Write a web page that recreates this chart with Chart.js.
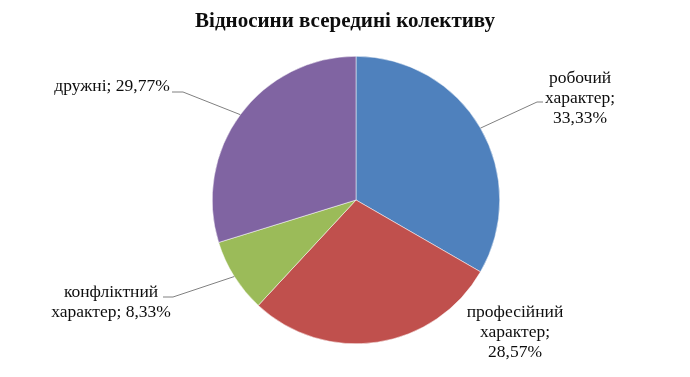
<!DOCTYPE html>
<html lang="uk">
<head>
  <meta charset="UTF-8">
  <title>Відносини всередині колективу</title>
  <script src="https://cdn.jsdelivr.net/npm/chart.js"></script>
  <style>
    body {
      margin: 0;
      background-color: #ffffff;
    }

    .chart-box {
      position: relative;
      width: 690px;
      height: 377px;
    }
  </style>
</head>
<body>

  <div class="chart-box">
    <canvas id="pieChart" width="690" height="377"></canvas>
  </div>

  <script>
    const chartTitle = 'Відносини всередині колективу';
    const categories = ['робочий характер', 'професійний характер', 'конфліктний характер', 'дружні'];
    const shares = [33.33, 28.57, 8.33, 29.77];
    const colors = ['#4f81bd', '#c0504d', '#9bbb59', '#8064a2'];

    // label lines as Excel wrapped them
    const labelLines = [
      ['робочий', 'характер;', '33,33%'],
      ['професійний', 'характер;', '28,57%'],
      ['конфліктний', 'характер; 8,33%'],
      ['дружні; 29,77%']
    ];

    // where each label sits, and where its leader line ends (null = no line)
    const labelPlace = [
      { x: 580, y: 78, tick: [[537, 102], [543, 102]] },
      { x: 515, y: 312, tick: null },
      { x: 111, y: 292, tick: [[173, 297], [163, 297]] },
      { x: 112, y: 86, tick: [[183, 92], [172, 92]] }
    ];

    const textPlugin = {
      id: 'textPlugin',
      afterDraw(chart) {
        const ctx = chart.ctx;
        ctx.save();
        ctx.fillStyle = '#0d0d0d';
        ctx.textAlign = 'center';
        ctx.textBaseline = 'middle';

        ctx.font = 'bold 21px "Liberation Serif", serif';
        ctx.fillText(chartTitle, 345, 22);

        const arcs = chart.getDatasetMeta(0).data;
        ctx.font = '17.5px "Liberation Serif", serif';
        arcs.forEach((arc, i) => {
          const p = labelPlace[i];
          if (p.tick) {
            const mid = (arc.startAngle + arc.endAngle) / 2;
            const ex = arc.x + Math.cos(mid) * arc.outerRadius;
            const ey = arc.y + Math.sin(mid) * arc.outerRadius;
            ctx.strokeStyle = '#808080';
            ctx.lineWidth = 1;
            ctx.beginPath();
            ctx.moveTo(ex, ey);
            ctx.lineTo(p.tick[0][0], p.tick[0][1]);
            ctx.lineTo(p.tick[1][0], p.tick[1][1]);
            ctx.stroke();
          }
          labelLines[i].forEach((line, k) => {
            ctx.fillText(line, p.x, p.y + k * 20);
          });
        });
        ctx.restore();
      }
    };

    new Chart(document.getElementById('pieChart'), {
      type: 'pie',
      data: {
        labels: categories,
        datasets: [{
          data: shares,
          backgroundColor: colors,
          borderColor: '#ffffff',
          borderWidth: 0.5
        }]
      },
      options: {
        responsive: false,
        animation: false,
        layout: {
          padding: { top: 56, bottom: 33, left: 212, right: 190 }
        },
        plugins: {
          legend: { display: false },
          tooltip: { enabled: false }
        }
      },
      plugins: [textPlugin]
    });
  </script>

</body>
</html>
